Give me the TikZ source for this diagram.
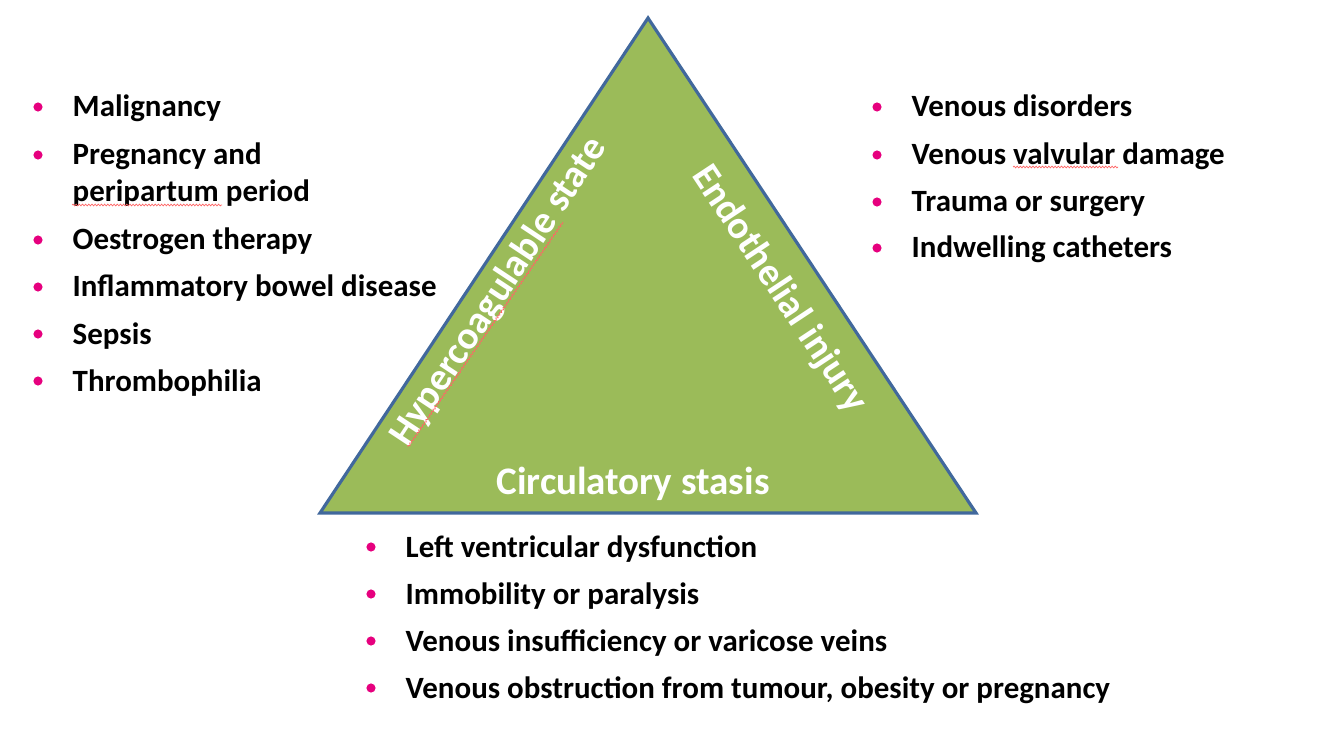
\documentclass[tikz,border=0pt]{standalone}
\usepackage{fontspec}
\setmainfont{Carlito}
\usetikzlibrary{calc,decorations.pathmorphing}
\definecolor{TriGreen}{HTML}{9BBB59}
\definecolor{TriBlue}{HTML}{41689C}
\definecolor{BulletPink}{HTML}{E6007E}
\tikzset{%
  cause/.style={anchor=base west,inner sep=0pt,
    font=\fontsize{8.8}{10}\selectfont\bfseries},
  corner/.style={text=white,inner sep=0pt,
    font=\fontsize{11.1}{13}\selectfont\bfseries},
  bulletdot/.style={circle,fill=BulletPink,inner sep=0pt,minimum size=2.6pt},
  spell/.style={red!60,line width=0.2pt,decorate,
    decoration={snake,segment length=0.9pt,amplitude=0.25pt}},
  triangle/.style={fill=TriGreen,draw=TriBlue,line width=0.9pt,line join=miter}
}

\begin{document}
\begin{tikzpicture}[x=0.01cm,y=-0.01cm]
  \path[use as bounding box] (0,0) rectangle (1334,749);

  % Virchow triangle
  \coordinate (apex) at (648,18);
  \coordinate (bl) at (320,513);
  \coordinate (br) at (976,513);
  \draw[triangle] (apex) -- (bl) -- (br) -- cycle;

  \node[corner, rotate=56.5] (hyper) at (499,292) {Hypercoagulable state};
  \node[corner, rotate=-56.5] (endo) at (779,289) {Endothelial injury};
  \node[corner] (stasis) at (633,484) {Circulatory stasis};

  % left list
  \node[cause] (mal) at (72,117) {Malignancy};
  \node[cause] (preg) at (72,165) {Pregnancy and};
  \node[cause] (peri) at (72,202) {peripartum period};
  \node[cause] (oest) at (72,250) {Oestrogen therapy};
  \node[cause] (ibd) at (72,297) {Inflammatory bowel disease};
  \node[cause] (sep) at (72,344) {Sepsis};
  \node[cause] (thr) at (72,391) {Thrombophilia};

  % right list
  \node[cause] (vdis) at (911,117) {Venous disorders};
  \node[cause] (valv) at (911,165) {Venous valvular damage};
  \node[cause] (trau) at (911,212) {Trauma or surgery};
  \node[cause] (cath) at (911,258) {Indwelling catheters};

  % bottom list
  \node[cause] (lvd) at (405,557) {Left ventricular dysfunction};
  \node[cause] (immo) at (405,604) {Immobility or paralysis};
  \node[cause] (insuf) at (405,651) {Venous insufficiency or varicose veins};
  \node[cause] (obst) at (405,698) {Venous obstruction from tumour, obesity or pregnancy};

  \foreach \n in {mal,preg,oest,ibd,sep,thr,vdis,valv,trau,cath,lvd,immo,insuf,obst}
    \node[bulletdot] at ([shift={(-34,-10)}]\n.base west) {};

  % spell-check marks
  \draw[spell] (72,205) -- (222,205);
  \draw[spell] (1013,167) -- (1118,167);
  \draw[spell] (408,447) -- (563,222);
\end{tikzpicture}
\end{document}
